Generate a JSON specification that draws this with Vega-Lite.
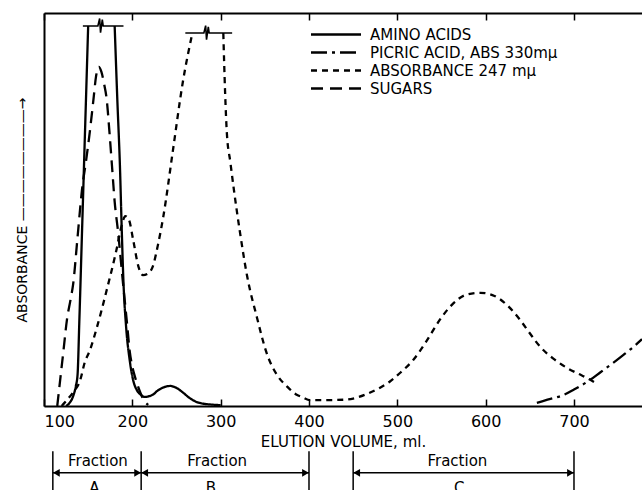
{
  "$schema": "https://vega.github.io/schema/vega-lite/v6.json",
  "width": 598,
  "height": 393,
  "autosize": {"type": "none"},
  "padding": {"left": 44, "top": 13, "right": 0, "bottom": 84},
  "background": "white",
  "config": {
    "view": {"stroke": null},
    "font": "DejaVu Sans",
    "axisY": {
      "orient": "left", "ticks": false, "labels": false, "grid": false,
      "domainColor": "black", "domainWidth": 2,
      "titleFont": "DejaVu Sans", "titleFontSize": 14, "titleFontWeight": "normal", "titleColor": "black", "titlePadding": 15
    }
  },
  "datasets": {
    "curves": [
      {"s": "AMINO ACIDS", "seg": "a1", "x": 125, "y": 0},
      {"s": "AMINO ACIDS", "seg": "a1", "x": 129, "y": 0.8},
      {"s": "AMINO ACIDS", "seg": "a1", "x": 133, "y": 2.5},
      {"s": "AMINO ACIDS", "seg": "a1", "x": 136, "y": 5},
      {"s": "AMINO ACIDS", "seg": "a1", "x": 138, "y": 8},
      {"s": "AMINO ACIDS", "seg": "a1", "x": 140, "y": 21.6},
      {"s": "AMINO ACIDS", "seg": "a1", "x": 143, "y": 44},
      {"s": "AMINO ACIDS", "seg": "a1", "x": 146, "y": 66.6},
      {"s": "AMINO ACIDS", "seg": "a1", "x": 148, "y": 81.6},
      {"s": "AMINO ACIDS", "seg": "a1", "x": 150, "y": 96.7},
      {"s": "AMINO ACIDS", "seg": "a2", "x": 180, "y": 96.7},
      {"s": "AMINO ACIDS", "seg": "a2", "x": 183, "y": 78},
      {"s": "AMINO ACIDS", "seg": "a2", "x": 186, "y": 60.8},
      {"s": "AMINO ACIDS", "seg": "a2", "x": 188, "y": 45},
      {"s": "AMINO ACIDS", "seg": "a2", "x": 190, "y": 31.3},
      {"s": "AMINO ACIDS", "seg": "a2", "x": 193, "y": 20},
      {"s": "AMINO ACIDS", "seg": "a2", "x": 197, "y": 11.7},
      {"s": "AMINO ACIDS", "seg": "a2", "x": 201, "y": 6.5},
      {"s": "AMINO ACIDS", "seg": "a2", "x": 205, "y": 4.1},
      {"s": "AMINO ACIDS", "seg": "a2", "x": 210, "y": 2.8},
      {"s": "AMINO ACIDS", "seg": "a2", "x": 214, "y": 2.3},
      {"s": "AMINO ACIDS", "seg": "a2", "x": 219, "y": 2.5},
      {"s": "AMINO ACIDS", "seg": "a2", "x": 224, "y": 3},
      {"s": "AMINO ACIDS", "seg": "a2", "x": 228, "y": 3.8},
      {"s": "AMINO ACIDS", "seg": "a2", "x": 235, "y": 4.7},
      {"s": "AMINO ACIDS", "seg": "a2", "x": 243, "y": 5.1},
      {"s": "AMINO ACIDS", "seg": "a2", "x": 250, "y": 4.6},
      {"s": "AMINO ACIDS", "seg": "a2", "x": 258, "y": 3.3},
      {"s": "AMINO ACIDS", "seg": "a2", "x": 265, "y": 2},
      {"s": "AMINO ACIDS", "seg": "a2", "x": 273, "y": 1},
      {"s": "AMINO ACIDS", "seg": "a2", "x": 280, "y": 0.6},
      {"s": "AMINO ACIDS", "seg": "a2", "x": 288, "y": 0.4},
      {"s": "AMINO ACIDS", "seg": "a2", "x": 300, "y": 0.2},

      {"s": "SUGARS", "seg": "su", "x": 115, "y": 0},
      {"s": "SUGARS", "seg": "su", "x": 118, "y": 6},
      {"s": "SUGARS", "seg": "su", "x": 122, "y": 14},
      {"s": "SUGARS", "seg": "su", "x": 126, "y": 22},
      {"s": "SUGARS", "seg": "su", "x": 130, "y": 27},
      {"s": "SUGARS", "seg": "su", "x": 133, "y": 31},
      {"s": "SUGARS", "seg": "su", "x": 138, "y": 43},
      {"s": "SUGARS", "seg": "su", "x": 143, "y": 55},
      {"s": "SUGARS", "seg": "su", "x": 148, "y": 63},
      {"s": "SUGARS", "seg": "su", "x": 152, "y": 70},
      {"s": "SUGARS", "seg": "su", "x": 156, "y": 78},
      {"s": "SUGARS", "seg": "su", "x": 159, "y": 84},
      {"s": "SUGARS", "seg": "su", "x": 162, "y": 86.3},
      {"s": "SUGARS", "seg": "su", "x": 165, "y": 85},
      {"s": "SUGARS", "seg": "su", "x": 168, "y": 82},
      {"s": "SUGARS", "seg": "su", "x": 171, "y": 78},
      {"s": "SUGARS", "seg": "su", "x": 174, "y": 70},
      {"s": "SUGARS", "seg": "su", "x": 177, "y": 61},
      {"s": "SUGARS", "seg": "su", "x": 180, "y": 52},
      {"s": "SUGARS", "seg": "su", "x": 184, "y": 44},
      {"s": "SUGARS", "seg": "su", "x": 187, "y": 37},
      {"s": "SUGARS", "seg": "su", "x": 190, "y": 30},
      {"s": "SUGARS", "seg": "su", "x": 194, "y": 21},
      {"s": "SUGARS", "seg": "su", "x": 197, "y": 14},
      {"s": "SUGARS", "seg": "su", "x": 200, "y": 10},
      {"s": "SUGARS", "seg": "su", "x": 203, "y": 7.4},
      {"s": "SUGARS", "seg": "su", "x": 208, "y": 4},
      {"s": "SUGARS", "seg": "su", "x": 213, "y": 1.5},
      {"s": "SUGARS", "seg": "su", "x": 218, "y": 0.3},

      {"s": "ABSORBANCE 247 mμ", "seg": "ab1", "x": 120, "y": 0},
      {"s": "ABSORBANCE 247 mμ", "seg": "ab1", "x": 126, "y": 1.5},
      {"s": "ABSORBANCE 247 mμ", "seg": "ab1", "x": 133, "y": 3.5},
      {"s": "ABSORBANCE 247 mμ", "seg": "ab1", "x": 141, "y": 6.6},
      {"s": "ABSORBANCE 247 mμ", "seg": "ab1", "x": 146, "y": 11},
      {"s": "ABSORBANCE 247 mμ", "seg": "ab1", "x": 152, "y": 14.2},
      {"s": "ABSORBANCE 247 mμ", "seg": "ab1", "x": 160, "y": 20.1},
      {"s": "ABSORBANCE 247 mμ", "seg": "ab1", "x": 171, "y": 29.5},
      {"s": "ABSORBANCE 247 mμ", "seg": "ab1", "x": 182, "y": 39.7},
      {"s": "ABSORBANCE 247 mμ", "seg": "ab1", "x": 188, "y": 46},
      {"s": "ABSORBANCE 247 mμ", "seg": "ab1", "x": 192, "y": 48.3},
      {"s": "ABSORBANCE 247 mμ", "seg": "ab1", "x": 196, "y": 47.5},
      {"s": "ABSORBANCE 247 mμ", "seg": "ab1", "x": 201, "y": 42.2},
      {"s": "ABSORBANCE 247 mμ", "seg": "ab1", "x": 207, "y": 35.4},
      {"s": "ABSORBANCE 247 mμ", "seg": "ab1", "x": 212, "y": 33.3},
      {"s": "ABSORBANCE 247 mμ", "seg": "ab1", "x": 217, "y": 33.6},
      {"s": "ABSORBANCE 247 mμ", "seg": "ab1", "x": 223, "y": 35.4},
      {"s": "ABSORBANCE 247 mμ", "seg": "ab1", "x": 229, "y": 41},
      {"s": "ABSORBANCE 247 mμ", "seg": "ab1", "x": 235, "y": 48.1},
      {"s": "ABSORBANCE 247 mμ", "seg": "ab1", "x": 246, "y": 65.1},
      {"s": "ABSORBANCE 247 mμ", "seg": "ab1", "x": 257, "y": 82.2},
      {"s": "ABSORBANCE 247 mμ", "seg": "ab1", "x": 268, "y": 94.9},
      {"s": "ABSORBANCE 247 mμ", "seg": "ab2", "x": 303, "y": 94.9},
      {"s": "ABSORBANCE 247 mμ", "seg": "ab2", "x": 305, "y": 80},
      {"s": "ABSORBANCE 247 mμ", "seg": "ab2", "x": 307, "y": 69.5},
      {"s": "ABSORBANCE 247 mμ", "seg": "ab2", "x": 311, "y": 62},
      {"s": "ABSORBANCE 247 mμ", "seg": "ab2", "x": 315, "y": 55},
      {"s": "ABSORBANCE 247 mμ", "seg": "ab2", "x": 322, "y": 44},
      {"s": "ABSORBANCE 247 mμ", "seg": "ab2", "x": 330, "y": 33},
      {"s": "ABSORBANCE 247 mμ", "seg": "ab2", "x": 341, "y": 22.6},
      {"s": "ABSORBANCE 247 mμ", "seg": "ab2", "x": 352, "y": 13.5},
      {"s": "ABSORBANCE 247 mμ", "seg": "ab2", "x": 365, "y": 7.5},
      {"s": "ABSORBANCE 247 mμ", "seg": "ab2", "x": 375, "y": 5},
      {"s": "ABSORBANCE 247 mμ", "seg": "ab2", "x": 385, "y": 3},
      {"s": "ABSORBANCE 247 mμ", "seg": "ab2", "x": 393, "y": 2.2},
      {"s": "ABSORBANCE 247 mμ", "seg": "ab2", "x": 401, "y": 1.5},
      {"s": "ABSORBANCE 247 mμ", "seg": "ab2", "x": 420, "y": 1.5},
      {"s": "ABSORBANCE 247 mμ", "seg": "ab2", "x": 440, "y": 1.6},
      {"s": "ABSORBANCE 247 mμ", "seg": "ab2", "x": 450, "y": 1.9},
      {"s": "ABSORBANCE 247 mμ", "seg": "ab2", "x": 465, "y": 3},
      {"s": "ABSORBANCE 247 mμ", "seg": "ab2", "x": 480, "y": 4.6},
      {"s": "ABSORBANCE 247 mμ", "seg": "ab2", "x": 492, "y": 6.3},
      {"s": "ABSORBANCE 247 mμ", "seg": "ab2", "x": 503, "y": 8.4},
      {"s": "ABSORBANCE 247 mμ", "seg": "ab2", "x": 518, "y": 11.7},
      {"s": "ABSORBANCE 247 mμ", "seg": "ab2", "x": 533, "y": 16.5},
      {"s": "ABSORBANCE 247 mμ", "seg": "ab2", "x": 548, "y": 21.9},
      {"s": "ABSORBANCE 247 mμ", "seg": "ab2", "x": 562, "y": 25.8},
      {"s": "ABSORBANCE 247 mμ", "seg": "ab2", "x": 578, "y": 28.3},
      {"s": "ABSORBANCE 247 mμ", "seg": "ab2", "x": 594, "y": 28.8},
      {"s": "ABSORBANCE 247 mμ", "seg": "ab2", "x": 610, "y": 28},
      {"s": "ABSORBANCE 247 mμ", "seg": "ab2", "x": 625, "y": 25.5},
      {"s": "ABSORBANCE 247 mμ", "seg": "ab2", "x": 639, "y": 21.9},
      {"s": "ABSORBANCE 247 mμ", "seg": "ab2", "x": 650, "y": 18.5},
      {"s": "ABSORBANCE 247 mμ", "seg": "ab2", "x": 662, "y": 15},
      {"s": "ABSORBANCE 247 mμ", "seg": "ab2", "x": 677, "y": 12},
      {"s": "ABSORBANCE 247 mμ", "seg": "ab2", "x": 692, "y": 9.7},
      {"s": "ABSORBANCE 247 mμ", "seg": "ab2", "x": 705, "y": 8.2},
      {"s": "ABSORBANCE 247 mμ", "seg": "ab2", "x": 715, "y": 7.1},
      {"s": "ABSORBANCE 247 mμ", "seg": "ab2", "x": 725, "y": 5.8},

      {"s": "PICRIC ACID, ABS 330mμ", "seg": "p", "x": 658, "y": 0.8},
      {"s": "PICRIC ACID, ABS 330mμ", "seg": "p", "x": 670, "y": 1.6},
      {"s": "PICRIC ACID, ABS 330mμ", "seg": "p", "x": 688, "y": 2.8},
      {"s": "PICRIC ACID, ABS 330mμ", "seg": "p", "x": 700, "y": 4.2},
      {"s": "PICRIC ACID, ABS 330mμ", "seg": "p", "x": 718, "y": 6.6},
      {"s": "PICRIC ACID, ABS 330mμ", "seg": "p", "x": 730, "y": 8.6},
      {"s": "PICRIC ACID, ABS 330mμ", "seg": "p", "x": 744, "y": 10.9},
      {"s": "PICRIC ACID, ABS 330mμ", "seg": "p", "x": 756, "y": 13},
      {"s": "PICRIC ACID, ABS 330mμ", "seg": "p", "x": 767, "y": 15},
      {"s": "PICRIC ACID, ABS 330mμ", "seg": "p", "x": 777, "y": 17}
    ],
    "caps": [
      {"c": 1, "o": 1, "x": 144, "y": 96.7},
      {"c": 1, "o": 2, "x": 161, "y": 96.7},
      {"c": 1, "o": 3, "x": 163, "y": 98.6},
      {"c": 1, "o": 4, "x": 164, "y": 95},
      {"c": 1, "o": 5, "x": 166, "y": 98.3},
      {"c": 1, "o": 6, "x": 167, "y": 96.7},
      {"c": 1, "o": 7, "x": 190, "y": 96.7},
      {"c": 2, "o": 1, "x": 260, "y": 94.9},
      {"c": 2, "o": 2, "x": 281, "y": 94.9},
      {"c": 2, "o": 3, "x": 283, "y": 96.8},
      {"c": 2, "o": 4, "x": 284, "y": 93.2},
      {"c": 2, "o": 5, "x": 286, "y": 96.5},
      {"c": 2, "o": 6, "x": 287, "y": 94.9},
      {"c": 2, "o": 7, "x": 313, "y": 94.9}
    ],
    "bars": [
      {"x": 110, "y": -11.5, "y2": -21.5},
      {"x": 210, "y": -11.5, "y2": -21.5},
      {"x": 400, "y": -11.5, "y2": -21.5},
      {"x": 450, "y": -11.5, "y2": -21.5},
      {"x": 700, "y": -11.5, "y2": -21.5}
    ],
    "spans": [
      {"x": 110, "x2": 210, "y": -17},
      {"x": 210, "x2": 400, "y": -17},
      {"x": 450, "x2": 700, "y": -17}
    ],
    "heads": [
      {"x": 114, "y": -17, "d": "triangle-left"},
      {"x": 206, "y": -17, "d": "triangle-right"},
      {"x": 214, "y": -17, "d": "triangle-left"},
      {"x": 396, "y": -17, "d": "triangle-right"},
      {"x": 454, "y": -17, "d": "triangle-left"},
      {"x": 696, "y": -17, "d": "triangle-right"}
    ],
    "labels": [
      {"x": 161, "y": -13.9, "t": "Fraction"},
      {"x": 296, "y": -13.9, "t": "Fraction"},
      {"x": 568, "y": -13.9, "t": "Fraction"},
      {"x": 157, "y": -20.8, "t": "A"},
      {"x": 289, "y": -20.8, "t": "B"},
      {"x": 570, "y": -20.8, "t": "C"}
    ]
  },
  "layer": [
    {
      "data": {"name": "curves"},
      "mark": {"type": "line", "interpolate": "monotone", "strokeWidth": 2.3, "color": "black", "strokeCap": "butt"},
      "encoding": {
        "x": {
          "field": "x", "type": "quantitative",
          "scale": {"domain": [100, 777], "nice": false, "zero": false},
          "axis": {
            "orient": "bottom", "values": [100, 200, 300, 400, 500, 600, 700],
            "title": "ELUTION VOLUME,  ml.", "grid": false,
            "domainColor": "black", "domainWidth": 2,
            "tickColor": "black", "tickSize": -7, "tickWidth": 1.5,
            "labelFont": "DejaVu Sans", "labelFontSize": 16, "labelColor": "black", "labelPadding": 14,
            "titleFont": "DejaVu Sans", "titleFontSize": 15, "titleFontWeight": "normal", "titleColor": "black", "titlePadding": 5
          }
        },
        "y": {
          "field": "y", "type": "quantitative",
          "scale": {"domain": [0, 100], "nice": false, "zero": false},
          "axis": {
            "orient": "left", "title": "ABSORBANCE   ————————→",
            "ticks": false, "labels": false, "grid": false, "domainColor": "black", "domainWidth": 2,
            "titleFont": "DejaVu Sans", "titleFontSize": 14, "titleFontWeight": "normal", "titleColor": "black", "titlePadding": 15
          }
        },
        "detail": {"field": "seg"},
        "strokeDash": {
          "field": "s", "type": "nominal",
          "scale": {
            "domain": ["AMINO ACIDS", "PICRIC ACID, ABS 330mμ", "ABSORBANCE 247 mμ", "SUGARS"],
            "range": [[1, 0], [16, 5, 3, 5], [6, 5], [12, 7]]
          },
          "legend": {
            "orient": "none", "legendX": 284.5, "legendY": 14, "title": null,
            "symbolType": "M-5,0H5", "symbolSize": 100, "symbolStrokeWidth": 2.3, "symbolStrokeColor": "black", "symbolFillColor": "transparent",
            "labelFont": "DejaVu Sans", "labelFontSize": 15, "labelColor": "black", "labelOffset": 26.5, "rowPadding": 2, "labelLimit": 400
          }
        }
      }
    },
    {
      "data": {"name": "caps"},
      "mark": {"type": "line", "strokeWidth": 1.6, "color": "black"},
      "encoding": {
        "x": {
          "field": "x", "type": "quantitative",
          "scale": {"domain": [100, 777], "nice": false, "zero": false},
          "axis": {
            "orient": "top", "values": [100, 200, 300, 400, 500, 600, 700], "labels": false, "title": null, "grid": false,
            "domainColor": "black", "domainWidth": 2, "tickColor": "black", "tickSize": -7, "tickWidth": 1.5
          }
        },
        "y": {"field": "y", "type": "quantitative", "scale": {"domain": [0, 100], "nice": false, "zero": false}},
        "detail": {"field": "c"},
        "order": {"field": "o"}
      }
    },
    {
      "data": {"name": "bars"},
      "mark": {"type": "rule", "strokeWidth": 1.5, "color": "black"},
      "encoding": {
        "x": {"field": "x", "type": "quantitative", "scale": {"domain": [100, 777], "nice": false, "zero": false}, "axis": null},
        "y": {"field": "y", "type": "quantitative", "scale": {"domain": [0, 100], "nice": false, "zero": false}},
        "y2": {"field": "y2"}
      }
    },
    {
      "data": {"name": "spans"},
      "mark": {"type": "rule", "strokeWidth": 1.5, "color": "black"},
      "encoding": {
        "x": {"field": "x", "type": "quantitative", "scale": {"domain": [100, 777], "nice": false, "zero": false}, "axis": null},
        "x2": {"field": "x2"},
        "y": {"field": "y", "type": "quantitative", "scale": {"domain": [0, 100], "nice": false, "zero": false}}
      }
    },
    {
      "data": {"name": "heads"},
      "mark": {"type": "point", "filled": true, "color": "black", "size": 60, "opacity": 1},
      "encoding": {
        "x": {"field": "x", "type": "quantitative", "scale": {"domain": [100, 777], "nice": false, "zero": false}, "axis": null},
        "y": {"field": "y", "type": "quantitative", "scale": {"domain": [0, 100], "nice": false, "zero": false}},
        "shape": {"field": "d", "type": "nominal", "scale": {"domain": ["triangle-left", "triangle-right"], "range": ["triangle-left", "triangle-right"]}, "legend": null}
      }
    },
    {
      "data": {"name": "labels"},
      "mark": {"type": "text", "font": "DejaVu Sans", "fontSize": 15, "color": "black", "baseline": "middle", "align": "center"},
      "encoding": {
        "x": {"field": "x", "type": "quantitative", "scale": {"domain": [100, 777], "nice": false, "zero": false}, "axis": null},
        "y": {"field": "y", "type": "quantitative", "scale": {"domain": [0, 100], "nice": false, "zero": false}},
        "text": {"field": "t"}
      }
    }
  ]
}
